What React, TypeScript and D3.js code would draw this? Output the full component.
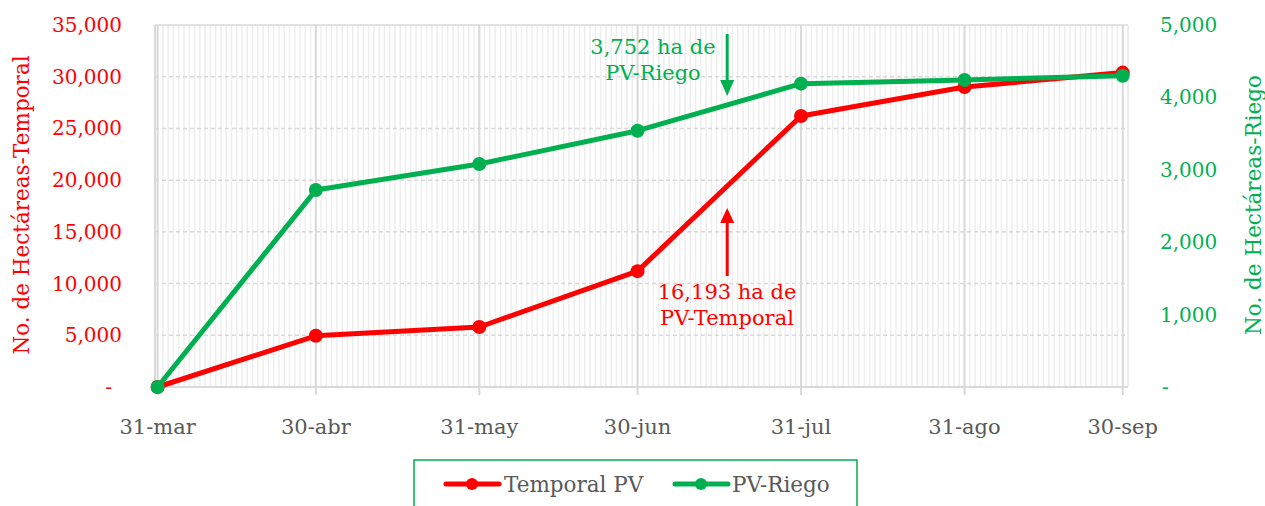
import React from "react";
import * as d3 from "d3";

const dates = ["2021-03-31", "2021-04-30", "2021-05-31", "2021-06-30", "2021-07-31", "2021-08-31", "2021-09-30"];
const tickLabels = ["31-mar", "30-abr", "31-may", "30-jun", "31-jul", "31-ago", "30-sep"];
const temporal = [0, 4950, 5800, 11200, 26200, 29000, 30400];
const riego = [0, 2720, 3080, 3540, 4190, 4240, 4300];
const leftTicks = [0, 5000, 10000, 15000, 20000, 25000, 30000, 35000];
const rightTicks = [0, 1000, 2000, 3000, 4000, 5000];
const annoRiego = ["3,752 ha de", "PV-Riego"];
const annoTemporal = ["16,193 ha de", "PV-Temporal"];
const annoDate = "2021-07-17";

const RED = "#FF0000";
const GREEN = "#00B050";
const GRAY = "#595959";
const FONT = "'DejaVu Serif', serif";

const parse = (s: string) => new Date(s + "T00:00:00Z");

export default function App() {
  const W = 1265, H = 506;
  const top = 25, bottom = 387;
  const x = d3.scaleUtc()
    .domain([new Date(Date.UTC(2021, 2, 30, 12)), new Date(Date.UTC(2021, 9, 1))])
    .range([155, 1128]);
  const yL = d3.scaleLinear().domain([0, 35000]).range([bottom, top]);
  const yR = d3.scaleLinear().domain([0, 5000]).range([bottom, top]);
  const fmt = d3.format(",");

  const days = d3.utcDay.range(parse(dates[0]), new Date(Date.UTC(2021, 9, 1)));
  const lineL = d3.line<number>().x((_, i) => x(parse(dates[i]))).y((d) => yL(d));
  const lineR = d3.line<number>().x((_, i) => x(parse(dates[i]))).y((d) => yR(d));
  const ax = x(parse(annoDate));

  return (
    <svg width={W} height={H} style={{ display: "block", position: "absolute", left: 0, top: 0 }}>
      <rect x={0} y={0} width={W} height={H} fill="#fff" />
      {/* minor daily gridlines */}
      {days.map((d, i) => (
        <line key={"m" + i} x1={x(d)} x2={x(d)} y1={top} y2={bottom} stroke="#eeeeee" strokeWidth={1.5} />
      ))}
      {/* horizontal dashed gridlines */}
      {leftTicks.slice(1, -1).map((t) => (
        <line key={"h" + t} x1={155} x2={1128} y1={yL(t)} y2={yL(t)} stroke="#d9d9d9" strokeWidth={1.5} strokeDasharray="4,3" />
      ))}
      <line x1={155} x2={1128} y1={top} y2={top} stroke="#d9d9d9" strokeWidth={1.5} />
      <line x1={155} x2={155} y1={top} y2={bottom} stroke="#d9d9d9" strokeWidth={2} />
      <line x1={1128} x2={1128} y1={top} y2={bottom} stroke="#e6e6e6" strokeWidth={1.5} />
      {/* major vertical gridlines */}
      {dates.map((d) => (
        <line key={"v" + d} x1={x(parse(d))} x2={x(parse(d))} y1={top} y2={bottom + 8} stroke="#d9d9d9" strokeWidth={2} />
      ))}
      <line x1={155} x2={1128} y1={bottom} y2={bottom} stroke="#d9d9d9" strokeWidth={2} />

      {/* left axis */}
      {leftTicks.map((t) => (
        <text key={"l" + t} x={t === 0 ? 112 : 122} y={yL(t)} dy="0.35em" textAnchor="end" fill={RED} fontFamily={FONT} fontSize={20}>
          {t === 0 ? "-" : fmt(t)}
        </text>
      ))}
      {rightTicks.map((t) => (
        <text key={"r" + t} x={t === 0 ? 1162 : 1160} y={yR(t)} dy="0.35em" textAnchor="start" fill={GREEN} fontFamily={FONT} fontSize={20}>
          {t === 0 ? "-" : fmt(t)}
        </text>
      ))}
      {dates.map((d, i) => (
        <text key={"x" + d} x={x(parse(d))} y={427} dy="0.35em" textAnchor="middle" fill={GRAY} fontFamily={FONT} fontSize={21}>
          {tickLabels[i]}
        </text>
      ))}
      <text transform="translate(21,205) rotate(-90)" textAnchor="middle" dy="0.35em" fill={RED} fontFamily={FONT} fontSize={21.5}>
        No. de Hectáreas-Temporal
      </text>
      <text transform="translate(1253,205) rotate(-90)" textAnchor="middle" dy="0.35em" fill={GREEN} fontFamily={FONT} fontSize={21.5}>
        No. de Hectáreas-Riego
      </text>

      {/* series */}
      <path d={lineL(temporal) || ""} fill="none" stroke={RED} strokeWidth={5} strokeLinejoin="round" />
      {temporal.map((v, i) => (
        <circle key={"tc" + i} cx={x(parse(dates[i]))} cy={yL(v)} r={7} fill={RED} />
      ))}
      <path d={lineR(riego) || ""} fill="none" stroke={GREEN} strokeWidth={5} strokeLinejoin="round" />
      {riego.map((v, i) => (
        <circle key={"rc" + i} cx={x(parse(dates[i]))} cy={yR(v)} r={7} fill={GREEN} />
      ))}

      {/* annotations */}
      <line x1={ax} x2={ax} y1={34} y2={80} stroke={GREEN} strokeWidth={3} />
      <path d={`M${ax - 7},${80} L${ax + 7},${80} L${ax},${96} Z`} fill={GREEN} />
      {annoRiego.map((s, i) => (
        <text key={"ag" + i} x={653} y={47 + i * 26} dy="0.35em" textAnchor="middle" fill={GREEN} fontFamily={FONT} fontSize={21}>
          {s}
        </text>
      ))}
      <line x1={ax} x2={ax} y1={276} y2={222} stroke={RED} strokeWidth={3} />
      <path d={`M${ax - 7},${223} L${ax + 7},${223} L${ax},${208} Z`} fill={RED} />
      {annoTemporal.map((s, i) => (
        <text key={"at" + i} x={727} y={292 + i * 26} dy="0.35em" textAnchor="middle" fill={RED} fontFamily={FONT} fontSize={21}>
          {s}
        </text>
      ))}

      {/* legend */}
      <rect x={414} y={460} width={443} height={60} fill="#fff" stroke={GREEN} strokeWidth={1.5} />
      <line x1={446} x2={499} y1={484} y2={484} stroke={RED} strokeWidth={5} strokeLinecap="round" />
      <circle cx={472} cy={484} r={6} fill={RED} />
      <text x={504} y={484} dy="0.35em" fill={GRAY} fontFamily={FONT} fontSize={21.5}>Temporal PV</text>
      <line x1={675} x2={728} y1={484} y2={484} stroke={GREEN} strokeWidth={5} strokeLinecap="round" />
      <circle cx={701} cy={484} r={6} fill={GREEN} />
      <text x={732} y={484} dy="0.35em" fill={GRAY} fontFamily={FONT} fontSize={21.5}>PV-Riego</text>
    </svg>
  );
}
